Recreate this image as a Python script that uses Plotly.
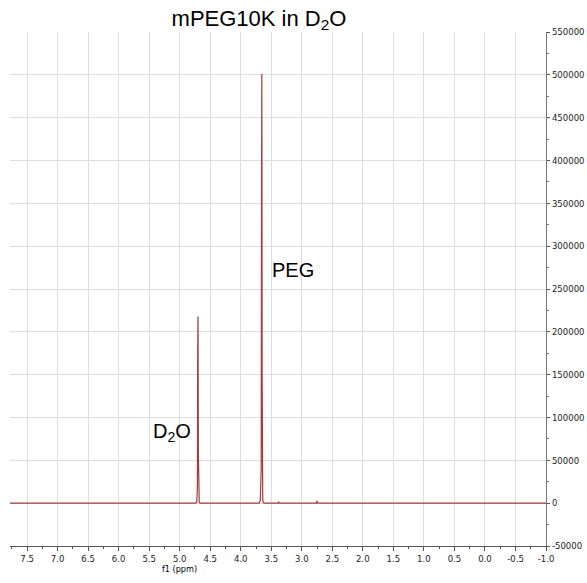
import plotly.graph_objects as go

# chemical shift (ppm) and intensity points of the spectrum
ppm = [7.78, 4.74, 4.72, 4.71, 4.705, 4.70, 4.695, 4.69, 4.68, 4.66,
       3.70, 3.68, 3.665, 3.66, 3.655, 3.65, 3.645, 3.64, 3.63, 3.61,
       3.39, 3.38, 3.37, 2.76, 2.75, 2.74, -1.0]
intensity = [0, 0, 1500, 20000, 180000, 218000, 60000, 5000, 800, 0,
             0, 3000, 40000, 360000, 501000, 150000, 20000, 4000, 500, 0,
             0, 1500, 0, 0, 2500, 0, 0]

x_tickvals = [7.5, 7.0, 6.5, 6.0, 5.5, 5.0, 4.5, 4.0, 3.5, 3.0, 2.5, 2.0, 1.5,
              1.0, 0.5, 0.0, -0.5, -1.0]
x_ticktext = ["7.5", "7.0", "6.5", "6.0", "5.5", "5.0", "4.5", "4.0", "3.5", "3.0",
              "2.5", "2.0", "1.5", "1.0", "0.5", "0.0", "-0.5", "-1.0"]
y_tickvals = [-50000, 0, 50000, 100000, 150000, 200000, 250000, 300000, 350000,
              400000, 450000, 500000, 550000]
y_ticktext = ["-50000", "0", "50000", "100000", "150000", "200000", "250000",
              "300000", "350000", "400000", "450000", "500000", "550000"]

title_text = "mPEG10K in D<sub>2</sub>O"
peak_labels = ["PEG", "D<sub>2</sub>O"]
label_x = [3.15, 5.13]
label_y = [272000, 83000]

fig = go.Figure()
fig.add_trace(go.Scatter(x=ppm, y=intensity, mode="lines",
                         line=dict(color="#a33a3a", width=1.2),
                         showlegend=False, hoverinfo="skip"))

for t, x, y in zip(peak_labels, label_x, label_y):
    fig.add_annotation(x=x, y=y, xref="x", yref="y", text=t, showarrow=False,
                       font=dict(family="Liberation Sans, Arial", size=20, color="#000"))

fig.add_annotation(x=5.0, xref="x", y=-0.032, yref="paper", yanchor="top",
                   text="f1 (ppm)", showarrow=False,
                   font=dict(family="DejaVu Sans Condensed, DejaVu Sans", size=9, color="#000"))

tickfont = dict(family="DejaVu Sans Condensed, DejaVu Sans", size=9.5, color="#222")
fig.update_layout(
    width=587, height=583,
    paper_bgcolor="white", plot_bgcolor="white",
    margin=dict(l=10, r=41, t=32, b=37),
    title=dict(text=title_text, x=259 / 587, xanchor="center", xref="container",
               y=1 - 18 / 583, yanchor="middle", yref="container",
               font=dict(family="Liberation Sans, Arial", size=22, color="#000")),
    xaxis=dict(range=[7.78, -1.0], tickvals=x_tickvals, ticktext=x_ticktext,
               showgrid=True, gridcolor="#dedede", gridwidth=1, automargin=False,
               zeroline=False, showline=True, linecolor="#555", linewidth=1,
               ticks="outside", ticklen=4, tickcolor="#555", tickfont=tickfont,
               minor=dict(dtick=0.25, ticks="outside", ticklen=2, tickcolor="#555", showgrid=False)),
    yaxis=dict(range=[-50000, 550000], tickvals=y_tickvals, ticktext=y_ticktext,
               side="right", automargin=False,
               showgrid=True, gridcolor="#dedede", gridwidth=1,
               zeroline=False, showline=True, linecolor="#777", linewidth=1,
               ticks="outside", ticklen=3, tickcolor="#555", tickfont=tickfont,
               minor=dict(dtick=25000, ticks="outside", ticklen=2, tickcolor="#777", showgrid=False)),
)

fig.write_html("out.html")
